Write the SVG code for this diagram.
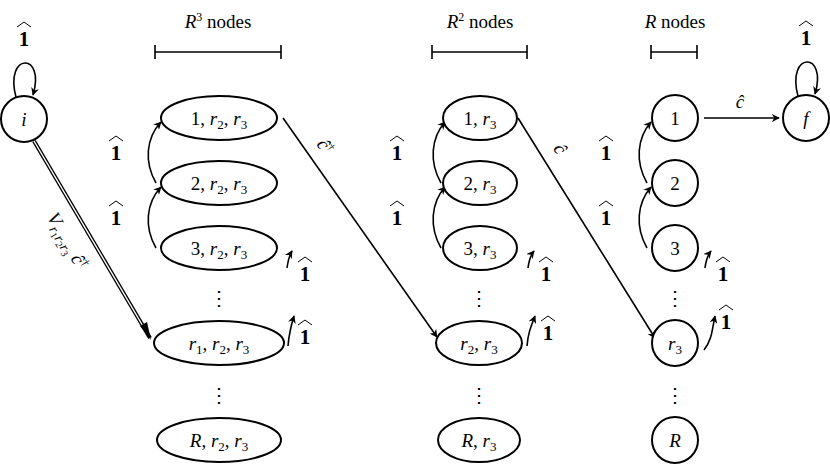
<svg xmlns="http://www.w3.org/2000/svg" width="830" height="467" viewBox="0 0 830 467">
<defs>
<marker id="ah" viewBox="0 0 10 10" refX="9" refY="5" markerWidth="8" markerHeight="8" markerUnits="userSpaceOnUse" orient="auto"><path d="M0,0 L10,5 L0,10 L3,5 Z" fill="#000"/></marker>
<g id="one"><text x="0" y="0" class="bb">1</text><path d="M-7,-19 L0,-24 L7,-19" fill="none" stroke="#000" stroke-width="1"/></g>
</defs>
<style>
.n{fill:#fff;stroke:#000;stroke-width:2}
.c{fill:none;stroke:#000;stroke-width:1.6}
text{font-family:"Liberation Serif","DejaVu Serif",serif;font-size:19px;text-anchor:middle;fill:#000}
.bb{font-family:"Liberation Serif",serif;font-size:21px;font-weight:bold;fill:#000}
.i{font-style:italic}
.d{font-size:20px}
</style>
<rect width="830" height="467" fill="#fff"/>
<g id="headers">
<text x="218" y="28"><tspan class="i">R</tspan><tspan font-size="12" dy="-7">3</tspan><tspan dy="7"> nodes</tspan></text>
<text x="480" y="28"><tspan class="i">R</tspan><tspan font-size="12" dy="-7">2</tspan><tspan dy="7"> nodes</tspan></text>
<text x="675" y="28"><tspan class="i">R</tspan> nodes</text>
<path class="c" d="M155,52H281M155,45V59M281,45V59M432,52H527M432,45V59M527,45V59M651,52H697M651,45V59M697,45V59"/>
</g>
<g id="connectors">
<path class="c" d="M16,97 C4,52 46,52 33,95" marker-end="url(#ah)"/>
<use href="#one" x="24" y="46"/>
<path class="c" d="M798,96 C786,51 828,51 815,94" marker-end="url(#ah)"/>
<use href="#one" x="806" y="45"/>
<path d="M34,141 L150,338" stroke="#000" stroke-width="4" fill="none"/>
<path d="M34,141 L147,333" stroke="#fff" stroke-width="1.4" fill="none"/>
<path d="M140,326 L151,340 L147,322 Z" fill="#000"/>
<text transform="translate(62,244) rotate(60)" font-size="20"><tspan class="i">V</tspan><tspan class="i" font-size="14" dy="4">r</tspan><tspan font-size="10" dy="2">1</tspan><tspan class="i" font-size="14" dy="-2">r</tspan><tspan font-size="10" dy="2">2</tspan><tspan class="i" font-size="14" dy="-2">r</tspan><tspan font-size="10" dy="2">3</tspan><tspan class="i" dy="-6"> ĉ</tspan><tspan font-size="12" dy="-7">†</tspan></text>
<path class="c" d="M283,118 L437,337" marker-end="url(#ah)"/>
<text transform="translate(320,150) rotate(55)" class="i">ĉ<tspan font-size="11" dy="-7" font-style="normal">†</tspan></text>
<path class="c" d="M518,118 L655,338" marker-end="url(#ah)"/>
<text transform="translate(555,152) rotate(58)" class="i">ĉ</text>
<path class="c" d="M704,118 H779" marker-end="url(#ah)"/>
<text x="740" y="108" class="i">ĉ</text>
<path class="c" d="M156,183 C144,162 146,138 161,122" marker-end="url(#ah)"/>
<path class="c" d="M156,248 C144,227 146,203 161,187" marker-end="url(#ah)"/>
<path class="c" d="M441,183 C429,162 431,138 445,122" marker-end="url(#ah)"/>
<path class="c" d="M441,248 C429,227 431,203 445,187" marker-end="url(#ah)"/>
<path class="c" d="M647,183 C635,162 637,138 651,122" marker-end="url(#ah)"/>
<path class="c" d="M647,248 C635,227 637,203 651,187" marker-end="url(#ah)"/>
<use href="#one" x="116" y="160"/><use href="#one" x="116" y="225"/>
<use href="#one" x="397" y="160"/><use href="#one" x="397" y="225"/>
<use href="#one" x="606" y="160"/><use href="#one" x="606" y="225"/>
<path class="c" d="M287,268 C288,260 289,256 292,251" marker-end="url(#ah)"/>
<path class="c" d="M288,346 C289,334 290,329 294,316" marker-end="url(#ah)"/>
<path class="c" d="M528,268 C529,260 530,256 534,251" marker-end="url(#ah)"/>
<path class="c" d="M527,346 C528,334 530,329 535,316" marker-end="url(#ah)"/>
<path class="c" d="M705,268 C706,260 707,256 711,251" marker-end="url(#ah)"/>
<path class="c" d="M704,350 C712,340 712,330 715,316" marker-end="url(#ah)"/>
<use href="#one" x="305" y="281"/><use href="#one" x="305" y="344"/>
<use href="#one" x="546" y="281"/><use href="#one" x="548" y="340"/>
<use href="#one" x="723" y="281"/><use href="#one" x="726" y="329"/>
</g>
<g id="dots">
<text x="219" y="305" class="d">⋮</text><text x="219" y="402" class="d">⋮</text>
<text x="479" y="305" class="d">⋮</text><text x="479" y="402" class="d">⋮</text>
<text x="675" y="305" class="d">⋮</text><text x="675" y="402" class="d">⋮</text>
</g>
<g id="node-i"><circle class="n" cx="24" cy="119" r="23"/><text x="24" y="126" class="i">i</text></g>
<g id="node-f"><circle class="n" cx="806" cy="118" r="23"/><text x="806" y="125" class="i">f</text></g>
<g id="n1-1"><ellipse class="n" cx="219" cy="118" rx="58" ry="22"/><text x="219" y="125">1, <tspan class="i">r</tspan><tspan font-size="13" dy="4">2</tspan><tspan dy="-4">, </tspan><tspan class="i">r</tspan><tspan font-size="13" dy="4">3</tspan></text></g>
<g id="n1-2"><ellipse class="n" cx="219" cy="183" rx="58" ry="22"/><text x="219" y="190">2, <tspan class="i">r</tspan><tspan font-size="13" dy="4">2</tspan><tspan dy="-4">, </tspan><tspan class="i">r</tspan><tspan font-size="13" dy="4">3</tspan></text></g>
<g id="n1-3"><ellipse class="n" cx="219" cy="248" rx="58" ry="22"/><text x="219" y="255">3, <tspan class="i">r</tspan><tspan font-size="13" dy="4">2</tspan><tspan dy="-4">, </tspan><tspan class="i">r</tspan><tspan font-size="13" dy="4">3</tspan></text></g>
<g id="n1-r1"><ellipse class="n" cx="219" cy="343" rx="65" ry="22"/><text x="219" y="350"><tspan class="i">r</tspan><tspan font-size="13" dy="4">1</tspan><tspan dy="-4">, </tspan><tspan class="i">r</tspan><tspan font-size="13" dy="4">2</tspan><tspan dy="-4">, </tspan><tspan class="i">r</tspan><tspan font-size="13" dy="4">3</tspan></text></g>
<g id="n1-R"><ellipse class="n" cx="219" cy="440" rx="62" ry="22"/><text x="219" y="447"><tspan class="i">R</tspan>, <tspan class="i">r</tspan><tspan font-size="13" dy="4">2</tspan><tspan dy="-4">, </tspan><tspan class="i">r</tspan><tspan font-size="13" dy="4">3</tspan></text></g>
<g id="n2-1"><ellipse class="n" cx="480" cy="118" rx="37" ry="22"/><text x="480" y="125">1, <tspan class="i">r</tspan><tspan font-size="13" dy="4">3</tspan></text></g>
<g id="n2-2"><ellipse class="n" cx="480" cy="183" rx="37" ry="22"/><text x="480" y="190">2, <tspan class="i">r</tspan><tspan font-size="13" dy="4">3</tspan></text></g>
<g id="n2-3"><ellipse class="n" cx="480" cy="248" rx="37" ry="22"/><text x="480" y="255">3, <tspan class="i">r</tspan><tspan font-size="13" dy="4">3</tspan></text></g>
<g id="n2-r2"><ellipse class="n" cx="479" cy="343" rx="43" ry="22"/><text x="479" y="350"><tspan class="i">r</tspan><tspan font-size="13" dy="4">2</tspan><tspan dy="-4">, </tspan><tspan class="i">r</tspan><tspan font-size="13" dy="4">3</tspan></text></g>
<g id="n2-R"><ellipse class="n" cx="479" cy="440" rx="41" ry="22"/><text x="479" y="447"><tspan class="i">R</tspan>, <tspan class="i">r</tspan><tspan font-size="13" dy="4">3</tspan></text></g>
<g id="n3-1"><circle class="n" cx="675" cy="118" r="23"/><text x="675" y="125">1</text></g>
<g id="n3-2"><circle class="n" cx="675" cy="183" r="23"/><text x="675" y="190">2</text></g>
<g id="n3-3"><circle class="n" cx="675" cy="248" r="23"/><text x="675" y="255">3</text></g>
<g id="n3-r3"><circle class="n" cx="675" cy="343" r="23"/><text x="675" y="350"><tspan class="i">r</tspan><tspan font-size="13" dy="4">3</tspan></text></g>
<g id="n3-R"><circle class="n" cx="675" cy="440" r="23"/><text x="675" y="447" class="i">R</text></g>
</svg>
